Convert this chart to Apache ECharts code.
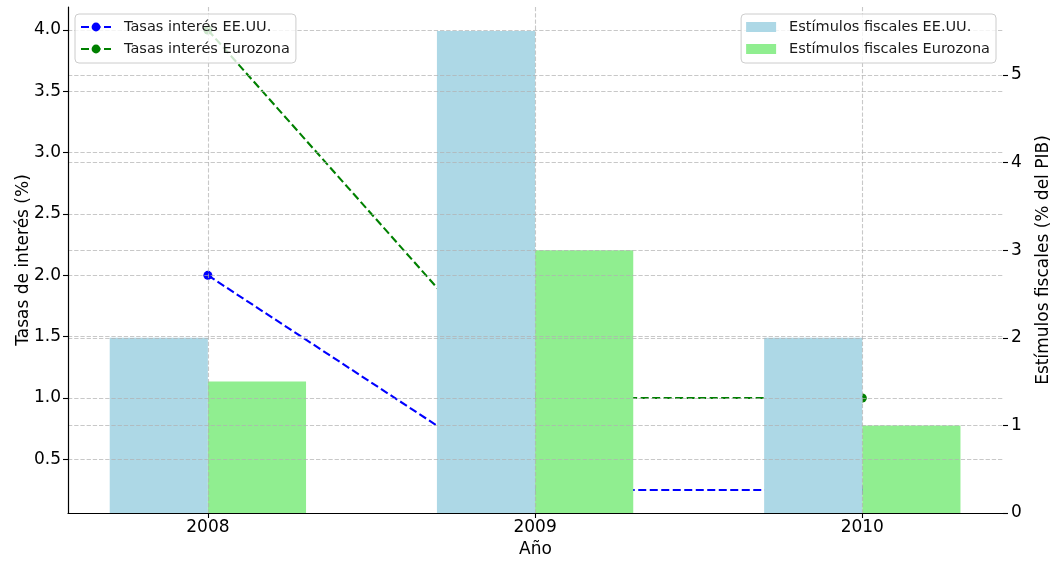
<!DOCTYPE html>
<html><head><meta charset="utf-8">
<script src="https://cdn.jsdelivr.net/npm/echarts@6/dist/echarts.min.js"></script>
<style>html,body{margin:0;padding:0;background:#fff}#c{width:1054px;height:570px}</style>
</head><body><div id="c"></div>
<script>
// ---- data ----
const years = ['2008', '2009', '2010'];
const tasasEEUU = [2.0, 0.25, 0.25];
const tasasEurozona = [4.0, 1.0, 1.0];
const estimulosEEUU = [2, 5.5, 2];
const estimulosEurozona = [1.5, 3, 1];
const leftTicks = [0.5, 1.0, 1.5, 2.0, 2.5, 3.0, 3.5, 4.0];
const rightTicks = [0, 1, 2, 3, 4, 5];
const xTicks = [0, 1, 2];

// ---- chart ----
const FONT = 'DejaVu Sans';
const chart = echarts.init(document.getElementById('c'), null, {renderer: 'canvas'});
const BAR_W = 0.3;
const gridDash = {color: '#b0b0b0', opacity: 0.7, width: 1.1, type: [4.3, 1.9]};

function barSeries(name, values, side, color) {
  return {
    name: name, type: 'custom', xAxisIndex: 0, yAxisIndex: 1, z: 5,
    itemStyle: {color: color},
    encode: {x: 0, y: 1},
    data: values.map((v, i) => [i, v]),
    renderItem: function (params, api) {
      const x = api.value(0), y = api.value(1);
      const x0 = side < 0 ? x - BAR_W : x;
      const x1 = side < 0 ? x : x + BAR_W;
      const p0 = api.coord([x0, y]);
      const p1 = api.coord([x1, 0]);
      return {type: 'rect', shape: {x: p0[0], y: p0[1], width: p1[0] - p0[0], height: p1[1] - p0[1]}, style: {fill: color}};
    }
  };
}

function lineSeries(name, values, color) {
  return {
    name: name, type: 'line', xAxisIndex: 0, yAxisIndex: 0, z: 2,
    data: values.map((v, i) => [i, v]),
    symbol: 'circle', symbolSize: 9, showSymbol: true,
    color: color,
    itemStyle: {color: color},
    lineStyle: {color: color, width: 2.1, type: [8, 3.5]}
  };
}

const legendCommon = {
  orient: 'vertical', top: 14, itemGap: 6, itemWidth: 30,
  padding: [5, 6, 6, 5],
  backgroundColor: 'rgba(255,255,255,0.8)', borderColor: '#cccccc', borderWidth: 1, borderRadius: 4,
  textStyle: {fontFamily: FONT, fontSize: 14.5, color: '#1a1a1a', lineHeight: 16, padding: [0, 0, 0, 8]},
  z: 20
};

const option = {
  animation: false,
  textStyle: {fontFamily: FONT},
  grid: {left: 68, right: 51, top: 7, bottom: 57, containLabel: false, outerBoundsMode: 'none'},
  legend: [
    Object.assign({}, legendCommon, {left: 75, itemHeight: 11,
      data: ['Tasas interés EE.UU.', 'Tasas interés Eurozona']}),
    Object.assign({}, legendCommon, {right: 58, itemHeight: 10,
      data: [{name: 'Estímulos fiscales EE.UU.', icon: 'rect'}, {name: 'Estímulos fiscales Eurozona', icon: 'rect'}]})
  ],
  xAxis: {
    type: 'value', min: -0.4275, max: 2.43, z: 12,
    axisLine: {show: true, onZero: false, lineStyle: {color: '#000', width: 1.2}},
    axisTick: {show: true, customValues: xTicks, length: 5, lineStyle: {color: '#000', width: 1.1}},
    axisLabel: {customValues: xTicks, formatter: v => years[Math.round(v)], fontSize: 17, color: '#000', margin: 6, fontFamily: FONT},
    splitLine: {show: true, lineStyle: gridDash},
    name: 'Año', nameLocation: 'middle', nameGap: 27,
    nameTextStyle: {fontSize: 17, color: '#000', fontFamily: FONT}
  },
  yAxis: [
    {
      type: 'value', position: 'left', min: 0.0625, max: 4.1875, z: 12,
      axisLine: {show: true, onZero: false, lineStyle: {color: '#000', width: 1.2}},
      axisTick: {show: true, inside: false, customValues: leftTicks, length: 5, lineStyle: {color: '#000', width: 1.1}},
      axisLabel: {customValues: leftTicks, formatter: v => v.toFixed(1), fontSize: 17, color: '#000', margin: 7, fontFamily: FONT},
      splitLine: {show: true, lineStyle: gridDash},
      name: 'Tasas de interés (%)', nameLocation: 'middle', nameGap: 36, nameMoveOverlap: false,
      nameTextStyle: {fontSize: 17, color: '#000', fontFamily: FONT}
    },
    {
      type: 'value', position: 'right', min: 0, max: 5.775, z: 10,
      axisLine: {show: true, onZero: false, lineStyle: {color: 'rgba(0,0,0,0)', width: 1}},
      axisTick: {show: true, inside: false, customValues: rightTicks, length: 5, lineStyle: {color: '#000', width: 1.1}},
      axisLabel: {customValues: rightTicks, formatter: v => String(v), fontSize: 17, color: '#000', margin: 8, fontFamily: FONT},
      splitLine: {show: true, lineStyle: gridDash},
      name: 'Estímulos fiscales (% del PIB)', nameLocation: 'middle', nameGap: 32,
      nameTextStyle: {fontSize: 17, color: '#000', fontFamily: FONT}
    }
  ],
  series: [
    lineSeries('Tasas interés EE.UU.', tasasEEUU, '#0000ff'),
    lineSeries('Tasas interés Eurozona', tasasEurozona, '#008000'),
    barSeries('Estímulos fiscales EE.UU.', estimulosEEUU, -1, '#add8e6'),
    barSeries('Estímulos fiscales Eurozona', estimulosEurozona, 1, '#90ee90')
  ]
};
chart.setOption(option);
</script>
</body></html>
